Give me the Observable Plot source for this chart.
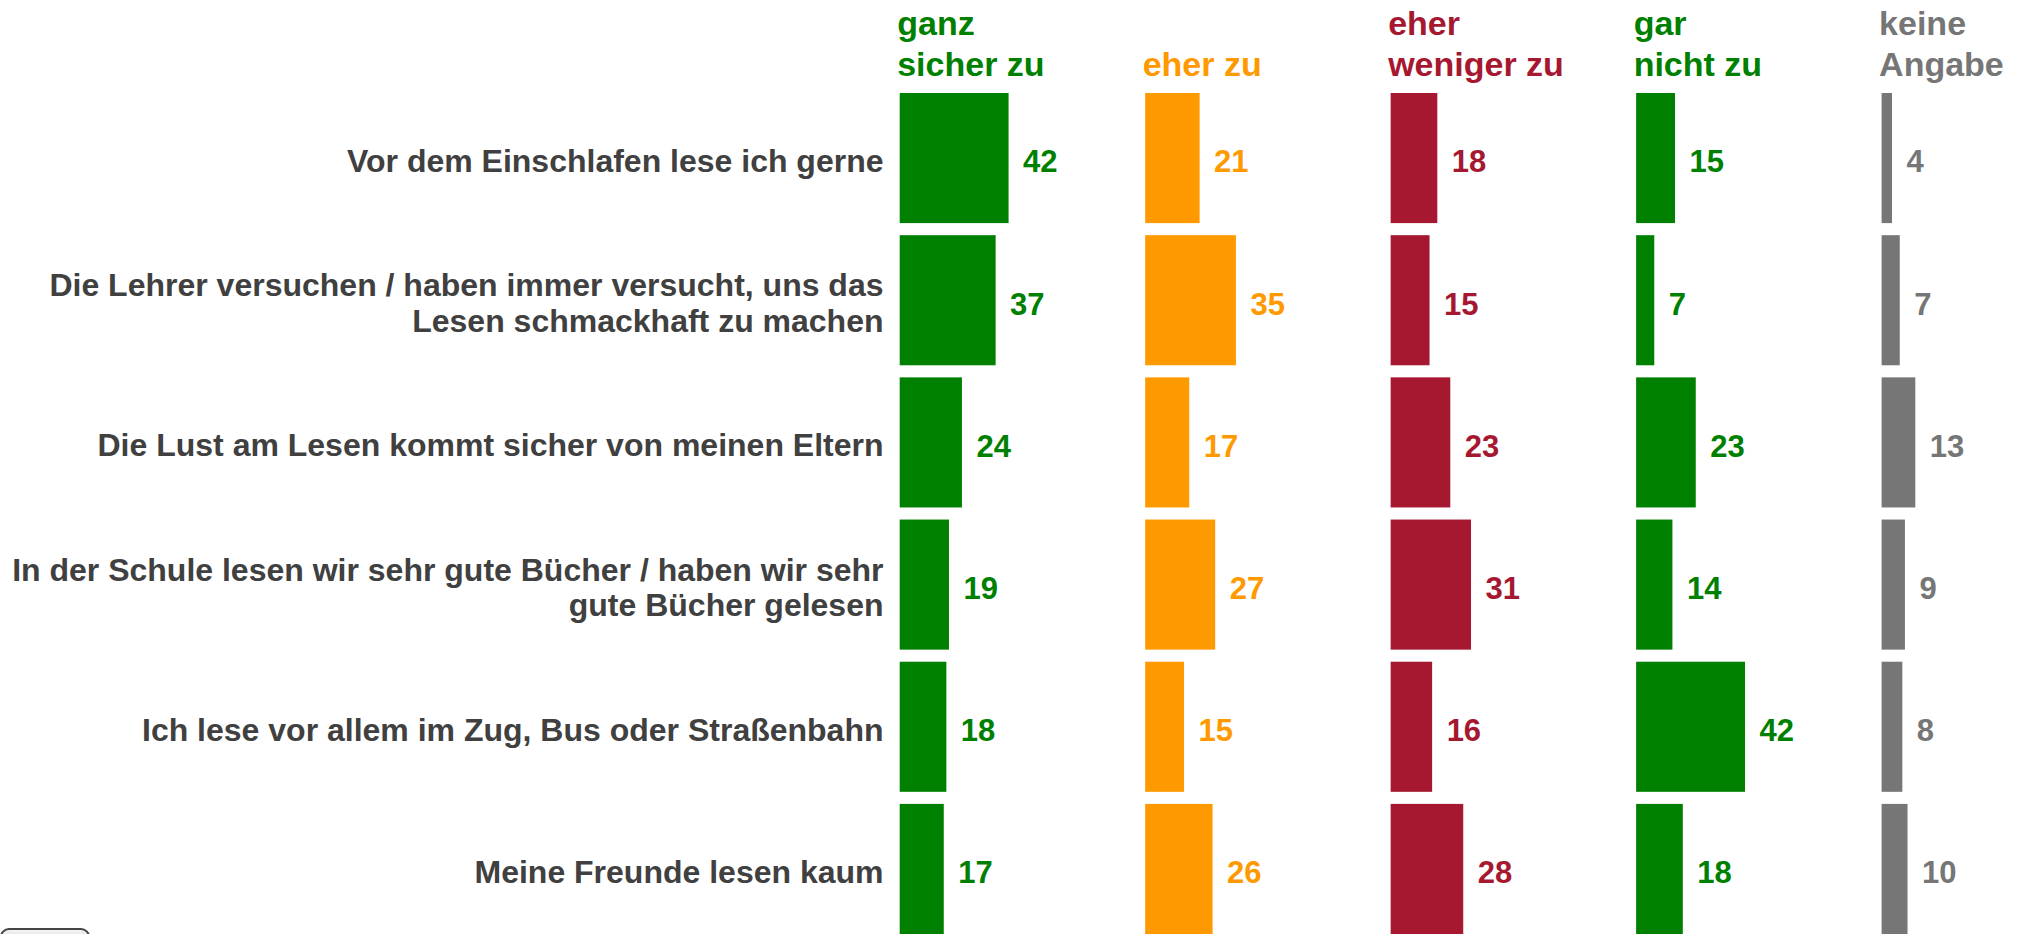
<!DOCTYPE html>
<html><head><meta charset="utf-8">
<script src="https://cdn.jsdelivr.net/npm/d3@7"></script>
<script src="https://cdn.jsdelivr.net/npm/@observablehq/plot@0.6"></script>
<style>
html,body{margin:0;padding:0;background:#fff;overflow:hidden}
#chart{position:relative;width:2033px;height:934px;overflow:hidden}
#chart svg{display:block}
#btn{position:absolute;left:0;top:928px;width:90px;height:24px;border:2px solid #444;border-radius:9px;background:linear-gradient(#f4f4f4,#bdbdbd);box-sizing:border-box}
</style></head><body><div id="chart"><div id="btn"></div></div>
<script>
const statements = [
  "Vor dem Einschlafen lese ich gerne",
  "Die Lehrer versuchen / haben immer versucht, uns das\nLesen schmackhaft zu machen",
  "Die Lust am Lesen kommt sicher von meinen Eltern",
  "In der Schule lesen wir sehr gute Bücher / haben wir sehr\ngute Bücher gelesen",
  "Ich lese vor allem im Zug, Bus oder Straßenbahn",
  "Meine Freunde lesen kaum"
];
const answers = ["ganz\nsicher zu", "eher zu", "eher\nweniger zu", "gar\nnicht zu", "keine\nAngabe"];
const ganzSicherZu = [42, 37, 24, 19, 18, 17];
const eherZu = [21, 35, 17, 27, 15, 26];
const eherWenigerZu = [18, 15, 23, 31, 16, 28];
const garNichtZu = [15, 7, 23, 14, 42, 18];
const keineAngabe = [4, 7, 13, 9, 8, 10];
const answerColors = ["#008000", "#ff9900", "#a51830", "#008000", "#767676"];

const series = [ganzSicherZu, eherZu, eherWenigerZu, garNichtZu, keineAngabe];
const data = answers.flatMap((a, j) => statements.map((s, i) => ({answer: a, statement: s, value: series[j][i]})));

const chart = Plot.plot({
  width: 2033,
  height: 934,
  marginTop: 93,
  marginBottom: 0,
  marginLeft: 899.7,
  marginRight: 11.4,
  style: {fontFamily: "'Liberation Sans', Arial, sans-serif", background: "transparent"},
  fx: {domain: answers, paddingInner: 0.4297, paddingOuter: 0, axis: null, round: false},
  x: {domain: [0, 54], axis: null},
  y: {domain: statements, paddingInner: 0.085, paddingOuter: 0, axis: null, round: false},
  color: {domain: answers, range: answerColors},
  marks: [
    Plot.barX(data, {fx: "answer", y: "statement", x: "value", fill: "answer"}),
    Plot.text(data, {fx: "answer", y: "statement", x: "value", text: d => String(d.value), fill: "answer",
      dx: 14, dy: 4, textAnchor: "start", fontSize: 31, fontWeight: "bold"}),
    Plot.text(answers, {fx: d => d, x: () => 0, frameAnchor: "top", text: d => d, fill: d => d,
      textAnchor: "start", lineAnchor: "bottom", lineHeight: 1.18, dy: -18, dx: -3, fontSize: 34, fontWeight: "bold"}),
    Plot.axisY({anchor: "left", tickSize: 0, tickPadding: 16.7, label: null, fontSize: 32, fontWeight: "bold",
      fill: "#404040", lineHeight: 1.12, dy: 2})
  ]
});
document.getElementById("chart").prepend(chart);
</script>
</body></html>
